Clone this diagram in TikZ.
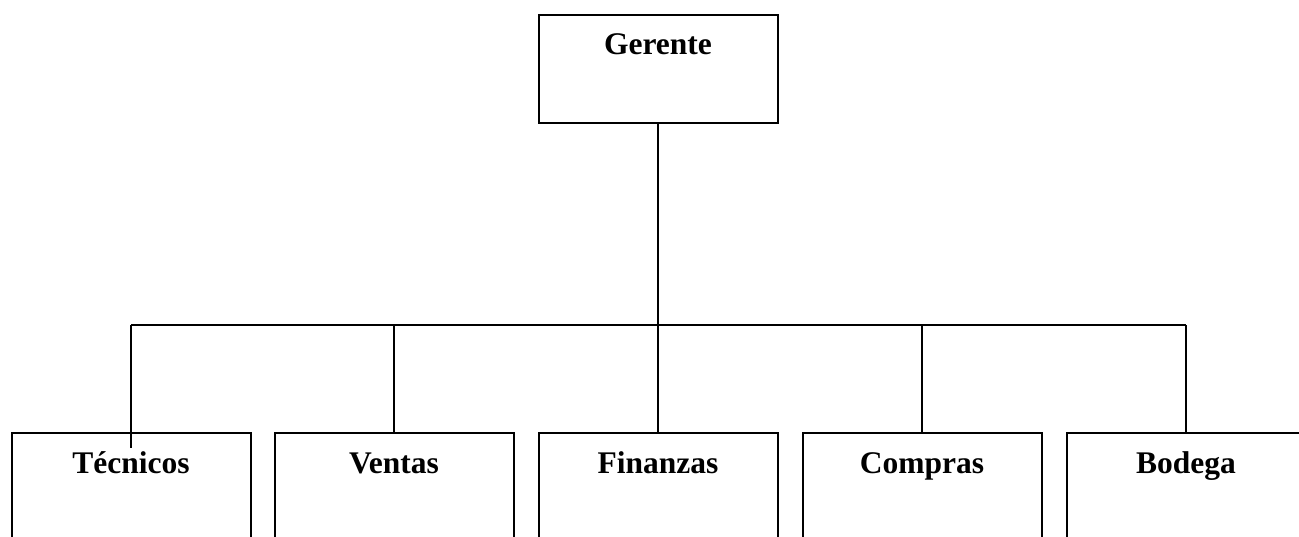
\documentclass[tikz,border=0pt]{standalone}
\usepackage{fontspec}
\setmainfont{Liberation Serif}
\begin{document}
\begin{tikzpicture}[x=1pt,y=-1pt,
  box/.style={draw, line width=2pt, rectangle, minimum width=239pt, inner sep=0pt},
  lbl/.style={font=\bfseries\fontsize{31.5}{36}\selectfont, anchor=base, inner sep=0pt},
  conn/.style={line width=2pt}]
\useasboundingbox (0,0) rectangle (1299,537);
\clip (0,0) rectangle (1299,537);
% top box
\node[box, minimum height=108pt] (ger) at (658,69) {};
\node[lbl] (gert) at (658,55) {Gerente};
% bottom boxes
\foreach \n/\x/\t in {tec/131/Técnicos, ven/394/Ventas, fin/658/Finanzas, com/922/Compras, bod/1186/Bodega}{
  \node[box, minimum height=200pt] (\n) at (\x,533) {};
  \node[lbl] (\n t) at (\x,473) {\t};
}
% connectors
\coordinate (bus) at (658,325);
\coordinate (busL) at (131,325);
\coordinate (busR) at (1186,325);
\coordinate (tecend) at (131,448);
\draw[conn] (ger.south) -- (bus);
\draw[conn] (busL) -- (busR);
\draw[conn] (busL) -- (tecend);
\draw[conn] (ven.north) -- (ven.north |- bus);
\draw[conn] (fin.north) -- (fin.north |- bus);
\draw[conn] (com.north) -- (com.north |- bus);
\draw[conn] (bod.north) -- (bod.north |- bus);
\end{tikzpicture}
\end{document}
